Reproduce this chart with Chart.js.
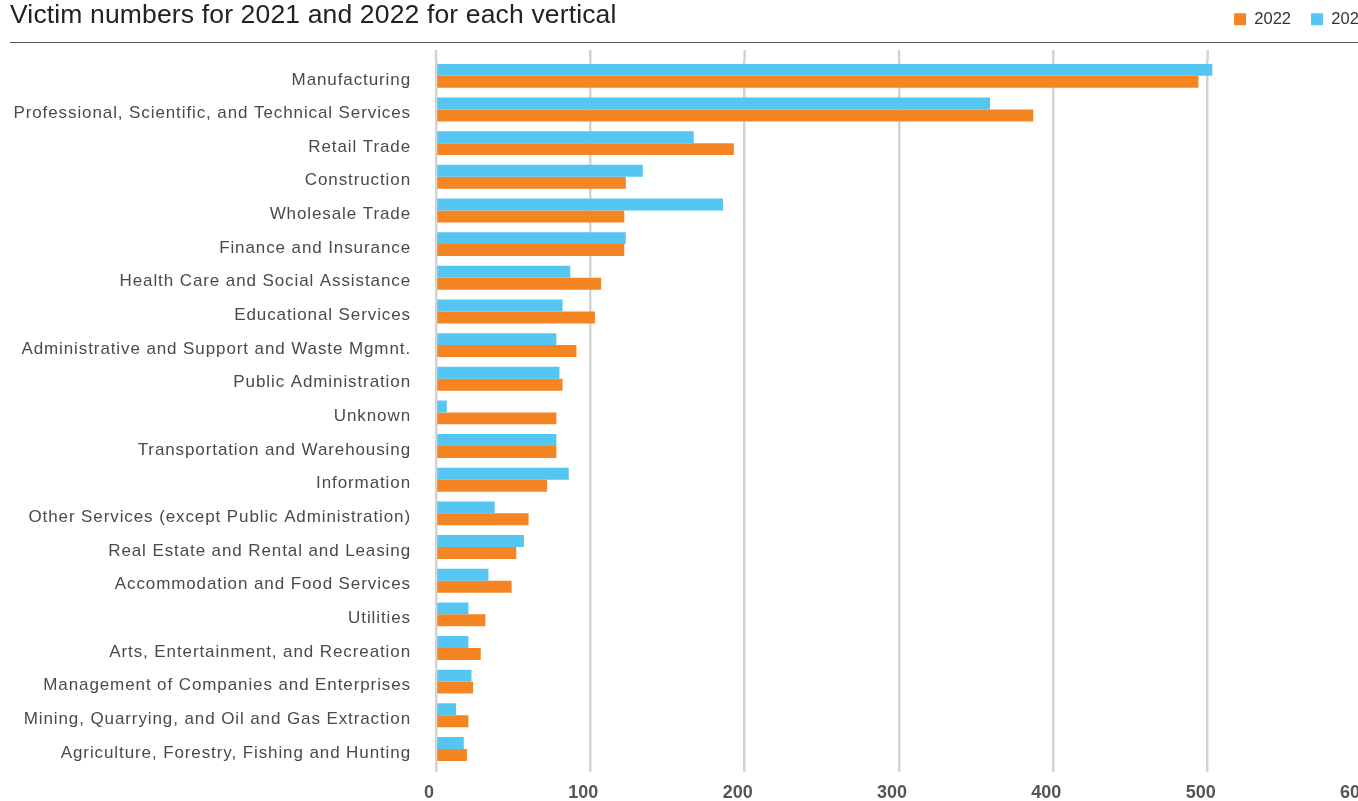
<!DOCTYPE html>
<html>
<head>
<meta charset="utf-8">
<script src="https://cdn.jsdelivr.net/npm/chart.js@4.4.1/dist/chart.umd.min.js"></script>
<style>
  html, body { margin: 0; padding: 0; background: #fff; }
  body { width: 1358px; height: 801px; overflow: hidden; position: relative; }
  #subtitle {
    position: absolute; left: 10px; top: -1px;
    font-family: "Liberation Sans", Arial, sans-serif;
    font-size: 26.5px; line-height: 30px; color: #222;
    letter-spacing: 0.15px;
    white-space: nowrap; z-index: 2;
  }
  #rule {
    position: absolute; left: 10px; top: 42px; width: 1400px;
    border-top: 1.5px solid #555; z-index: 2;
  }
  #wrap { position: absolute; left: 0; top: 0; width: 1400px; height: 801px; }
</style>
</head>
<body>
<div id="subtitle">Victim numbers for 2021 and 2022 for each vertical</div>
<div id="rule"></div>
<div id="wrap"><canvas id="chart" width="1400" height="801"></canvas></div>
<script>
// Victims per industry vertical
const verticals = [
  "Manufacturing",
  "Professional, Scientific, and Technical Services",
  "Retail Trade",
  "Construction",
  "Wholesale Trade",
  "Finance and Insurance",
  "Health Care and Social Assistance",
  "Educational Services",
  "Administrative and Support and Waste Mgmnt.",
  "Public Administration",
  "Unknown",
  "Transportation and Warehousing",
  "Information",
  "Other Services (except Public Administration)",
  "Real Estate and Rental and Leasing",
  "Accommodation and Food Services",
  "Utilities",
  "Arts, Entertainment, and Recreation",
  "Management of Companies and Enterprises",
  "Mining, Quarrying, and Oil and Gas Extraction",
  "Agriculture, Forestry, Fishing and Hunting"
];
const victims2021 = [503, 359, 167, 134, 186, 123, 87, 82, 78, 80, 7, 78, 86, 38, 57, 34, 21, 21, 23, 13, 18];
const victims2022 = [494, 387, 193, 123, 122, 122, 107, 103, 91, 82, 78, 78, 72, 60, 52, 49, 32, 29, 24, 21, 20];
const xTicks = [0, 100, 200, 300, 400, 500, 600];

const BLUE = "#55C5F1";
const ORANGE = "#F58423";
const GRID = "#d3d3d3";

// Legend sits in the heading row; pin its height so the plot starts below the rule
const legendSpacer = {
  id: "legendSpacer",
  beforeInit(chart) {
    const fit = chart.legend.fit;
    chart.legend.fit = function () {
      fit.call(this);
      this.height = 68;
    };
  },
  beforeDraw(chart) {
    // push the legend toward the right edge of the heading row
    chart.legend.left += 26;
    chart.legend.right += 26;
  }
};

// Wider letter spacing for the category names
const spacedLabels = {
  id: "spacedLabels",
  afterLayout(chart) {
    const y = chart.scales.y;
    if (y._spaced) return;
    const draw = y.drawLabels;
    y.drawLabels = function (area) {
      const ctx = this.ctx;
      ctx.save();
      ctx.letterSpacing = "0.9px";
      draw.call(this, area);
      ctx.restore();
    };
    y._spaced = true;
  }
};

// Vertical grid lines run a little above the plot area
const gridCap = {
  id: "gridCap",
  beforeDatasetsDraw(chart) {
    const x = chart.scales.x, area = chart.chartArea, ctx = chart.ctx;
    ctx.save();
    ctx.strokeStyle = GRID;
    ctx.lineWidth = 2.5;
    x.ticks.forEach((t) => {
      const px = x.getPixelForValue(t.value);
      ctx.beginPath();
      ctx.moveTo(px, area.top - 9);
      ctx.lineTo(px, area.top);
      ctx.stroke();
    });
    ctx.restore();
  }
};

new Chart(document.getElementById("chart"), {
  type: "bar",
  data: {
    labels: verticals,
    datasets: [
      { label: "2021", data: victims2021, backgroundColor: BLUE },
      { label: "2022", data: victims2022, backgroundColor: ORANGE }
    ]
  },
  options: {
    indexAxis: "y",
    responsive: false,
    animation: false,
    devicePixelRatio: 1,
    categoryPercentage: 0.71,
    barPercentage: 1.0,
    layout: { padding: { left: 10, right: 38, top: -9, bottom: 0 } },
    plugins: {
      title: { display: false },
      tooltip: { enabled: false },
      legend: {
        position: "top",
        align: "end",
        reverse: true,
        labels: {
          boxWidth: 12,
          boxHeight: 12,
          padding: 20,
          color: "#333",
          font: { family: "'Liberation Sans', Arial, sans-serif", size: 16.5 }
        }
      }
    },
    scales: {
      x: {
        type: "linear",
        min: 0,
        max: 600,
        afterBuildTicks(scale) {
          scale.ticks = xTicks.map((v) => ({ value: v }));
        },
        afterFit(scale) { scale.height = 34; },
        border: { display: false },
        grid: { color: GRID, lineWidth: 2.5, tickLength: 6, drawTicks: true },
        ticks: {
          padding: 12,
          labelOffset: -7,
          color: "#555",
          font: { family: "'Liberation Sans Narrow', 'Liberation Sans', Arial, sans-serif", size: 18, weight: "bold", lineHeight: 1 }
        }
      },
      y: {
        type: "category",
        border: { display: false },
        grid: { display: false, drawTicks: false },
        afterFit(scale) { scale.width = 426; },
        ticks: {
          padding: 25,
          labelOffset: 4,
          color: "#4a4a4a",
          font: { family: "'Liberation Sans', Arial, sans-serif", size: 17 }
        }
      }
    }
  },
  plugins: [legendSpacer, spacedLabels, gridCap]
});
</script>
</body>
</html>
